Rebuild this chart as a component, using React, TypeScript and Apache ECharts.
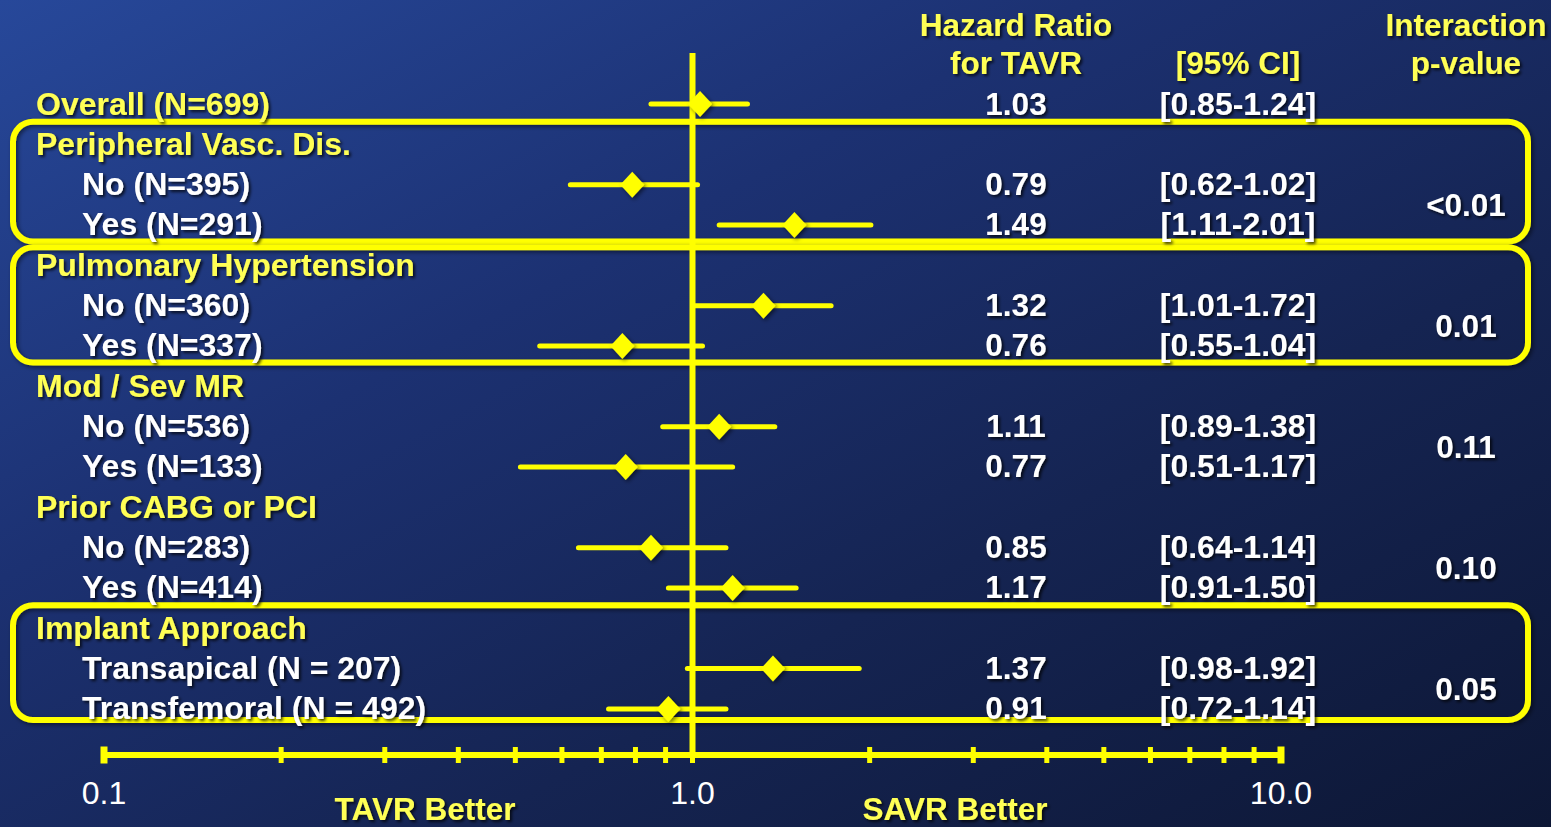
import React, { useEffect, useRef } from "react";
import * as echarts from "echarts";

// ---------- data ----------
const rowLabels = [
  "Overall (N=699)",
  "Peripheral Vasc. Dis.",
  "No (N=395)",
  "Yes (N=291)",
  "Pulmonary Hypertension",
  "No (N=360)",
  "Yes (N=337)",
  "Mod / Sev MR",
  "No (N=536)",
  "Yes (N=133)",
  "Prior CABG or PCI",
  "No (N=283)",
  "Yes (N=414)",
  "Implant Approach",
  "Transapical (N = 207)",
  "Transfemoral (N = 492)",
];
// true = group heading (yellow, outdented)
const rowIsHeading = [true, true, false, false, true, false, false, true, false, false, true, false, false, true, false, false];
const hazardRatio = [1.03, null, 0.79, 1.49, null, 1.32, 0.76, null, 1.11, 0.77, null, 0.85, 1.17, null, 1.37, 0.91];
const ciLow = [0.85, null, 0.62, 1.11, null, 1.01, 0.55, null, 0.89, 0.51, null, 0.64, 0.91, null, 0.98, 0.72];
const ciHigh = [1.24, null, 1.02, 2.01, null, 1.72, 1.04, null, 1.38, 1.17, null, 1.14, 1.5, null, 1.92, 1.14];
const ciText = ["[0.85-1.24]", "", "[0.62-1.02]", "[1.11-2.01]", "", "[1.01-1.72]", "[0.55-1.04]", "", "[0.89-1.38]", "[0.51-1.17]", "", "[0.64-1.14]", "[0.91-1.50]", "", "[0.98-1.92]", "[0.72-1.14]"];
const pValues = ["<0.01", "0.01", "0.11", "0.10", "0.05"];
const pValueRows = [2.5, 5.5, 8.5, 11.5, 14.5];
const boxedGroups = [[1, 3], [4, 6], [13, 15]]; // first/last row of highlighted groups
const tickValues = [0.1, 0.2, 0.3, 0.4, 0.5, 0.6, 0.7, 0.8, 0.9, 1, 2, 3, 4, 5, 6, 7, 8, 9, 10];
const axisMin = 0.1;
const axisMax = 10;

// ---------- layout ----------
const W = 1551;
const H = 827;
const ROW0_Y = 104;
const ROW_H = 40.33;
const AXIS_Y = 755;
const ROW_MIN = -2;
const AXIS_ROW = (AXIS_Y - ROW0_Y) / ROW_H;
const REF_TOP_ROW = (53 - ROW0_Y) / ROW_H;
const rowY = (r: number) => ROW0_Y + r * ROW_H;

const YELLOW = "#ffff00";
const YELLOW_TEXT = "#ffff55";
const FONT = '"Liberation Sans", Arial, sans-serif';

const txtShadow = {
  textShadowColor: "rgba(0,0,0,0.75)",
  textShadowBlur: 3,
  textShadowOffsetX: 2,
  textShadowOffsetY: 2,
};

function text(str: string, x: number, y: number, color: string, align: string, size = 31, weight = "bold") {
  return {
    type: "text",
    z: 10,
    style: {
      text: str,
      x,
      y,
      fill: color,
      font: `${weight} ${size}px ${FONT}`,
      textAlign: align,
      textVerticalAlign: "middle",
      ...txtShadow,
    },
  };
}

export default function App() {
  const ref = useRef<HTMLDivElement>(null);
  useEffect(() => {
    if (!ref.current) return;
    const chart = echarts.init(ref.current, undefined, { renderer: "svg" });

    const graphics: any[] = [];
    // boxes around highlighted groups
    const boxPadTop = [22.5, 18, 23];
    const boxPadBottom = [16.5, 16.5, 11];
    boxedGroups.forEach(([a, b], i) => {
      const y1 = rowY(a) - boxPadTop[i];
      const y2 = rowY(b) + boxPadBottom[i];
      graphics.push({
        type: "rect",
        z: 1,
        shape: { x: 13, y: y1, width: 1515, height: y2 - y1, r: 20 },
        style: {
          fill: "none",
          stroke: YELLOW,
          lineWidth: 6,
          shadowColor: "rgba(0,0,0,0.5)",
          shadowBlur: 4,
          shadowOffsetX: 2,
          shadowOffsetY: 2,
        },
      });
    });
    // row labels, HR and CI
    rowLabels.forEach((lab, i) => {
      const y = rowY(i);
      graphics.push(text(lab, rowIsHeading[i] ? 36 : 82, y - 0.5, rowIsHeading[i] ? YELLOW_TEXT : "#ffffff", "left", 32));
      if (hazardRatio[i] != null) {
        graphics.push(text((hazardRatio[i] as number).toFixed(2), 1016, y - 0.5, "#ffffff", "center", 31.5));
        graphics.push(text(ciText[i], 1238, y - 0.5, "#ffffff", "center", 32));
      }
    });
    pValues.forEach((p, i) => graphics.push(text(p, 1466, rowY(pValueRows[i]), "#ffffff", "center", 31.5)));
    // column headings
    graphics.push(text("Hazard Ratio", 1016, 25, YELLOW_TEXT, "center", 31.5));
    graphics.push(text("for TAVR", 1016, 63, YELLOW_TEXT, "center", 31.5));
    graphics.push(text("[95% CI]", 1238, 63, YELLOW_TEXT, "center", 31.5));
    graphics.push(text("Interaction", 1466, 25, YELLOW_TEXT, "center", 31.5));
    graphics.push(text("p-value", 1466, 63, YELLOW_TEXT, "center", 31.5));
    graphics.push(text("TAVR Better", 425, 809, YELLOW_TEXT, "center", 31.5));
    graphics.push(text("SAVR Better", 955, 809, YELLOW_TEXT, "center", 31.5));

    const ciData: any[] = [];
    const ptData: any[] = [];
    hazardRatio.forEach((hr, i) => {
      if (hr == null) return;
      ciData.push([ciLow[i], ciHigh[i], i]);
      ptData.push([hr, i]);
    });

    const shadow = { shadowColor: "rgba(0,0,0,0.55)", shadowBlur: 4, shadowOffsetX: 2, shadowOffsetY: 2 };

    chart.setOption({
      animation: false,
      backgroundColor: "transparent",
      grid: {
        left: 104,
        right: W - 1281,
        top: rowY(ROW_MIN),
        bottom: H - AXIS_Y,
        containLabel: false,
      },
      xAxis: {
        type: "log",
        logBase: 10,
        min: axisMin,
        max: axisMax,
        axisLine: { show: true, onZero: false, lineStyle: { color: YELLOW, width: 6 } },
        axisTick: { show: false },
        splitLine: { show: false },
        axisLabel: {
          color: "#ffffff",
          fontSize: 32,
          fontFamily: FONT,
          margin: 22,
          formatter: (v: number) => v.toFixed(1),
        },
      },
      yAxis: {
        type: "value",
        inverse: true,
        min: ROW_MIN,
        max: AXIS_ROW,
        show: false,
        splitLine: { show: false },
      },
      graphic: graphics,
      series: [
        {
          type: "line",
          z: 2,
          symbol: "none",
          silent: true,
          data: [
            [1, REF_TOP_ROW],
            [1, AXIS_ROW + 0.17],
          ],
          lineStyle: { color: YELLOW, width: 6 },
        },
        {
          type: "scatter",
          z: 3,
          clip: false,
          symbol: "rect",
          symbolSize: (v: number[]) => (v[0] === axisMin || v[0] === axisMax ? [7, 17] : [5, 16]),
          itemStyle: { color: YELLOW, opacity: 1 },
          data: tickValues.map((v) => [v, AXIS_ROW]),
        },
        {
          type: "custom",
          z: 4,
          clip: false,
          encode: { x: [0, 1], y: 2 },
          data: ciData,
          renderItem: (params: any, api: any) => {
            const p1 = api.coord([api.value(0), api.value(2)]);
            const p2 = api.coord([api.value(1), api.value(2)]);
            return {
              type: "line",
              shape: { x1: p1[0], y1: p1[1], x2: p2[0], y2: p2[1] },
              style: { stroke: YELLOW, lineWidth: 5, lineCap: "round" },
            };
          },
        },
        {
          type: "scatter",
          z: 5,
          clip: false,
          symbol: "diamond",
          symbolSize: [24, 26],
          itemStyle: { color: YELLOW, opacity: 1, ...shadow },
          data: ptData,
        },
      ],
    });
    return () => chart.dispose();
  }, []);

  return (
    <div
      style={{
        position: "fixed",
        left: 0,
        top: 0,
        width: W,
        height: H,
        background: "linear-gradient(to bottom right, #27489a 0%, #1c3172 35%, #152452 65%, #0d1735 100%)",
      }}
    >
      <div ref={ref} style={{ width: W, height: H }} />
    </div>
  );
}
